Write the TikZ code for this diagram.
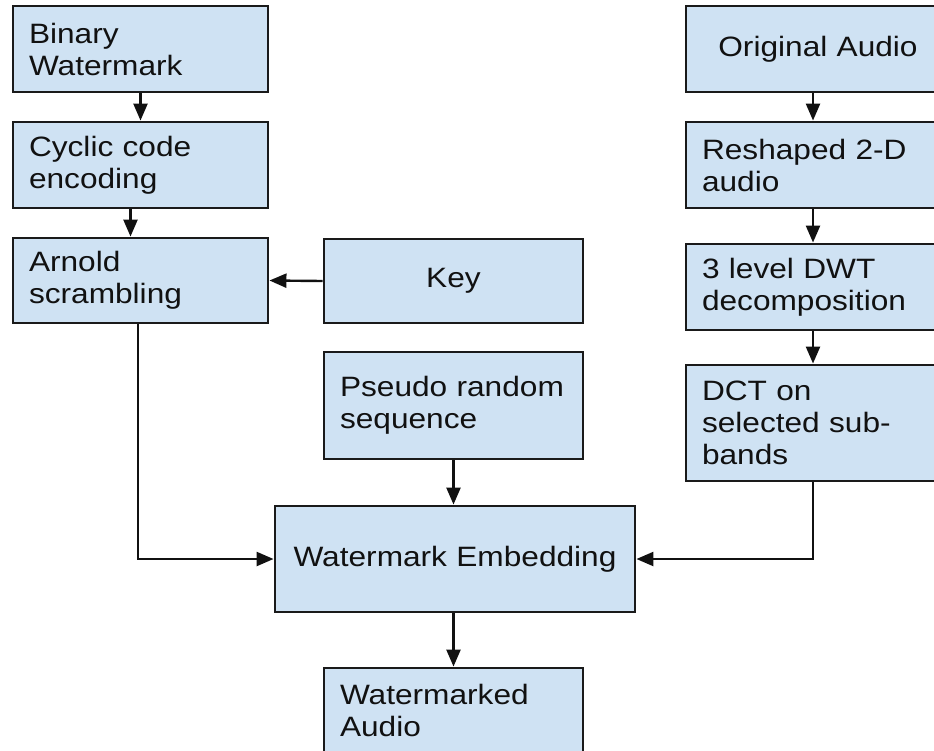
\documentclass[tikz,border=0pt]{standalone}
\usepackage{fontspec}
\setmainfont{Liberation Sans}[FakeStretch=1.13]
\usetikzlibrary{arrows.meta}
\definecolor{boxfill}{HTML}{CFE2F3}
\definecolor{boxline}{HTML}{1A1A1A}
\definecolor{ink}{HTML}{111111}
\tikzset{
  blk/.style={draw=boxline, fill=boxfill, line width=2.9pt, rectangle,
    inner xsep=16pt, inner ysep=0pt, text=ink, align=left,
    font=\fontsize{28}{32}\selectfont},
  flow/.style={line width=2.4pt, draw=ink,
    -{Triangle[length=17pt, width=14pt]}},
}
\begin{document}
\begin{tikzpicture}[x=1pt, y=-1pt]
  \useasboundingbox (0,0) rectangle (934,750);
  \fill[white] (0,0) rectangle (934,750);
  \clip (0,0) rectangle (934,750);

  % watermark preparation chain
  \node[blk, text width=223pt, minimum height=86pt] (bw) at (140.5,49) {Binary\\Watermark};
  \node[blk, text width=223pt, minimum height=86pt] (cc) at (140.5,165) {Cyclic code\\encoding};
  \node[blk, text width=223pt, minimum height=85pt] (ar) at (140.5,280.5) {Arnold\\scrambling};
  \node[blk, text width=227pt, minimum height=84pt, align=center] (key) at (453.5,281) {Key};
  \node[blk, text width=227pt, minimum height=107pt] (prs) at (453.5,405.5) {Pseudo random\\sequence};

  % embedding and output
  \node[blk, text width=328pt, minimum height=106pt, align=center] (emb) at (455,559) {Watermark Embedding};
  \node[blk, text width=227pt, minimum height=84pt] (wma) at (453.5,710) {Watermarked\\Audio};

  % audio transform chain
  \node[blk, text width=232pt, minimum height=86pt, align=center] (oa) at (818,49) {Original Audio};
  \node[blk, text width=232pt, minimum height=86pt] (rs) at (818,165) {Reshaped 2-D\\audio};
  \node[blk, text width=232pt, minimum height=86pt] (dwt) at (818,287) {3 level DWT\\decomposition};
  \node[blk, text width=232pt, minimum height=116pt] (dct) at (818,423) {DCT on\\selected sub-\\bands};

  % connectors
  \draw[flow] (bw) -- (cc);
  \draw[flow] ([xshift=-10pt]cc.south) -- ([xshift=-10pt]ar.north);
  \draw[flow] (key.west) -- (ar.east);
  \draw[flow] ([xshift=-2.5pt]ar.south) |- (emb.west);
  \draw[flow] (prs.south) -- (prs.south |- emb.north);
  \draw[flow] (wma.north |- emb.south) -- (wma.north);
  \draw[flow] ([xshift=-5pt]oa.south) -- ([xshift=-5pt]rs.north);
  \draw[flow] ([xshift=-5pt]rs.south) -- ([xshift=-5pt]dwt.north);
  \draw[flow] ([xshift=-5pt]dwt.south) -- ([xshift=-5pt]dct.north);
  \draw[flow] ([xshift=-5pt]dct.south) |- (emb.east);
\end{tikzpicture}
\end{document}
